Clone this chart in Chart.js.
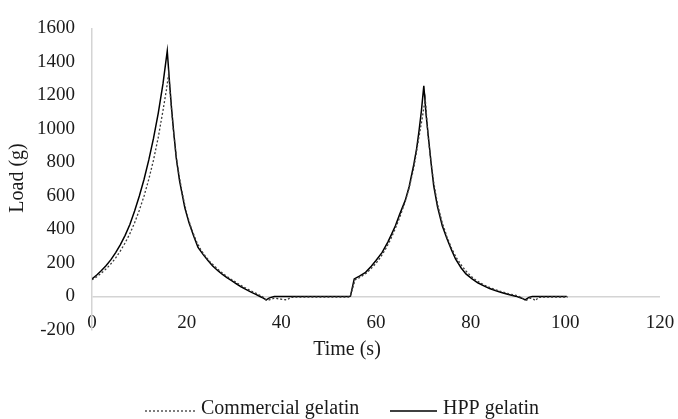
<!DOCTYPE html>
<html>
<head>
<meta charset="utf-8">
<script src="https://cdn.jsdelivr.net/npm/chart.js@4.4.1/dist/chart.umd.min.js"></script>
<style>
  body { margin: 0; background: #fff; }
  #wrap { width: 678px; height: 419px; position: relative; }
</style>
</head>
<body>
<div id="wrap"><canvas id="myChart"></canvas></div>
<script>
  // time (s) and load (g)
  const hppTime = [0,1,2,3,4,5,6,7,8,9,10,11,12,13,14,15,15.9,
    16.4,16.8,17.3,17.8,18.5,19.6,20.5,21.5,22.4,23.5,24.5,25.5,26.6,27.5,28.5,29.5,30.5,31.5,32.5,33.5,34.5,35.5,36.2,36.8,37.5,38.5,
    45,54,54.6,55.4,56.5,57.8,59,60,61.3,62.5,63.3,64.1,65,66.2,67,68,68.6,69.1,69.6,70.1,
    70.6,71.2,71.7,72.2,73,74,75,76,76.8,78,79,80.3,81.5,83,84,85.2,86.5,88,89.5,90.8,91.5,92.3,93,97,100.3];
  const hppLoad = [105,128,155,185,220,262,310,365,430,510,600,700,815,945,1095,1270,1465,
    1270,1124,970,827,690,530,440,360,293,250,215,182,154,133,113,95,76,58,42,28,14,0,-10,-20,-8,0,
    0,0,2,105,122,144,180,215,263,325,372,422,490,575,655,790,885,990,1110,1257,
    1080,916,780,659,535,422,345,275,224,170,135,105,82,60,48,36,24,12,2,-10,-20,-5,0,0,0];

  const comTime = [0,1,2,3,4,5,6,7,8,9,10,11,12,13,14,15,15.7,16.2,16.7,17.2,
    18,19,20,21,22,23,24,25,26,27,28,29,30,31,32,33,34,35,36,
    36.8,37.5,38.5,39.5,40.5,41.2,42,45,54.5,55.6,56.5,
    58,59,60,61,62,63,64,65,66,67,68,69,69.8,70.4,71,71.5,72.2,
    73,74,75,76,77,78,79,80,81,82,83,84,85,86,87,88,89,90,91,
    91.8,92.5,93.2,93.7,94.3,97,100.5];
  const comLoad = [100,118,140,165,195,230,272,320,375,440,515,600,700,815,950,1110,1230,1330,1150,990,
    790,625,495,405,333,278,238,205,178,152,130,110,92,74,57,42,28,14,0,
    -22,-20,-10,-14,-18,-20,-5,-3,-3,100,112,
    140,168,198,236,282,336,400,472,552,648,770,940,1070,1180,960,830,680,
    550,440,355,285,230,188,152,123,100,82,67,54,43,33,25,17,10,3,-12,
    -22,-10,-14,-25,-5,-3,-3];

  const seriesNames = ['Commercial gelatin', 'HPP gelatin'];
  const xTicks = [0, 120, 20];     // min, max, step
  const yTicks = [-200, 1600, 200];

  const fontName = '"Liberation Serif", "Times New Roman", serif';
  const textColor = '#1a1a1a';
  const axisGrey = '#d4d4d4';

  function toPoints(ts, ls) {
    return ts.map((t, i) => ({x: t, y: ls[i]}));
  }

  // axis titles + legend drawn by hand so they sit where the original has them
  const extraText = {
    id: 'extraText',
    afterDraw(chart) {
      const ctx = chart.ctx;
      ctx.save();
      ctx.fillStyle = textColor;
      ctx.font = '20px ' + fontName;
      ctx.textAlign = 'center';
      ctx.textBaseline = 'middle';
      ctx.fillText('Time (s)', 347, 350);
      ctx.save();
      ctx.translate(18, 178);
      ctx.rotate(-Math.PI / 2);
      ctx.fillText('Load (g)', 0, 0);
      ctx.restore();

      const items = [{x: 145, w: 50}, {x: 390, w: 47}];
      chart.data.datasets.forEach((ds, i) => {
        const it = items[i];
        ctx.beginPath();
        ctx.strokeStyle = ds.borderColor;
        ctx.lineWidth = ds.borderWidth;
        ctx.setLineDash(ds.borderDash || []);
        ctx.moveTo(it.x, 411);
        ctx.lineTo(it.x + it.w, 411);
        ctx.stroke();
        ctx.setLineDash([]);
        ctx.textAlign = 'left';
        ctx.textBaseline = 'alphabetic';
        ctx.fillText(ds.label, it.x + it.w + 6, 414);
      });
      ctx.restore();
    }
  };

  const config = {
    type: 'scatter',
    data: {
      datasets: [{
        label: seriesNames[0],
        data: toPoints(comTime, comLoad),
        showLine: true,
        borderColor: '#3a3a3a',
        borderWidth: 1.3,
        borderDash: [2, 2],
        pointRadius: 0,
        tension: 0
      }, {
        label: seriesNames[1],
        data: toPoints(hppTime, hppLoad),
        showLine: true,
        borderColor: '#000000',
        borderWidth: 1.5,
        pointRadius: 0,
        tension: 0
      }]
    },
    options: {
      responsive: true,
      maintainAspectRatio: false,
      animation: false,
      layout: { padding: { top: 26, right: 18, bottom: 69, left: 0 } },
      plugins: {
        legend: { display: false },
        tooltip: { enabled: false }
      },
      scales: {
        x: {
          type: 'linear',
          min: xTicks[0], max: xTicks[1],
          afterFit: (s) => { s.height = 20; },
          grid: { display: false, drawTicks: false },
          border: { display: false },
          // mirror keeps the labels out of the scale clip box, they sit just above the -200 line
          ticks: { stepSize: xTicks[2], mirror: true, padding: -4, color: textColor, font: { family: fontName, size: 19 } }
        },
        y: {
          min: yTicks[0], max: yTicks[1],
          afterFit: (s) => { s.width = 92; },
          grid: {
            drawTicks: false,
            lineWidth: 1.5,
            color: (c) => (c.tick && c.tick.value === 0 ? axisGrey : 'rgba(0,0,0,0)')
          },
          border: { display: true, color: axisGrey, width: 1.5 },
          ticks: {
            stepSize: yTicks[2], padding: 17, color: textColor,
            font: { family: fontName, size: 19 },
            callback: (v) => String(v)
          }
        }
      }
    },
    plugins: [extraText]
  };

  const myChart = new Chart(document.getElementById('myChart'), config);
</script>
</body>
</html>
